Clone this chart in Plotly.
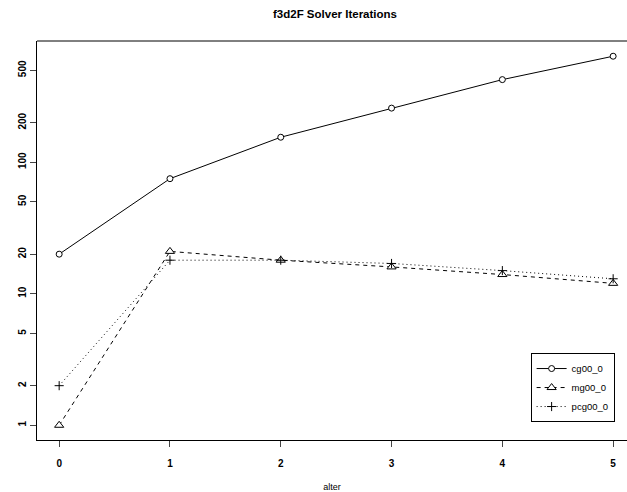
import plotly.graph_objects as go

alter = [0, 1, 2, 3, 4, 5]
cg00_0 = [20, 75, 155, 258, 425, 640]
mg00_0 = [1, 21, 18, 16, 14, 12]
pcg00_0 = [2, 18, 18, 17, 15, 13]
y_ticks = [1, 2, 5, 10, 20, 50, 100, 200, 500]

FONT = "Liberation Sans, Arial, Helvetica, sans-serif"

fig = go.Figure()
series = [
    ("cg00_0", cg00_0, "solid", "circle", 6, "white"),
    ("mg00_0", mg00_0, "4px,4px", "triangle-up", 8, "white"),
    ("pcg00_0", pcg00_0, "1px,3px", "cross-thin-open", 6.5, "black"),
]
for name, vals, dash, sym, size, fill in series:
    fig.add_trace(go.Scatter(
        x=alter, y=vals, name=name, mode="lines+markers",
        line=dict(color="black", width=1, dash=dash),
        marker=dict(symbol=sym, size=size, color=fill,
                    line=dict(color="black", width=1)),
    ))

fig.update_layout(
    width=627, height=492,
    margin=dict(l=37, r=0, t=41, b=52),
    paper_bgcolor="white", plot_bgcolor="white",
    font=dict(family=FONT, color="black"),
    title=dict(text="<b>f3d2F Solver Iterations</b>", x=335 / 627, xanchor="center",
               y=1 - 14 / 492, yanchor="middle", font=dict(size=11.5)),
    showlegend=True,
    legend=dict(x=0.979, xanchor="right", y=0.045, yanchor="bottom",
                bordercolor="black", borderwidth=1, bgcolor="white",
                font=dict(size=9.5), itemwidth=30, tracegroupgap=0),
    xaxis=dict(range=[-0.2, 5.125], tickvals=alter, ticks="outside", ticklen=6,
               showline=True, linecolor="black", linewidth=1, showgrid=False,
               zeroline=False, tickfont=dict(size=10, weight="bold"),
               ticklabelstandoff=8,
               title=dict(text="alter", font=dict(size=9), standoff=16)),
    yaxis=dict(type="log", range=[-0.112, 2.922], tickvals=y_ticks, ticks="outside",
               ticklen=6, tickangle=-90, showline=True, linecolor="black", linewidth=1,
               showgrid=False, zeroline=False, tickfont=dict(size=10, weight="bold")),
    shapes=[dict(type="line", xref="paper", yref="paper", x0=0, x1=1, y0=1, y1=1,
                 line=dict(color="black", width=1))],
)

fig.write_html("out.html")
